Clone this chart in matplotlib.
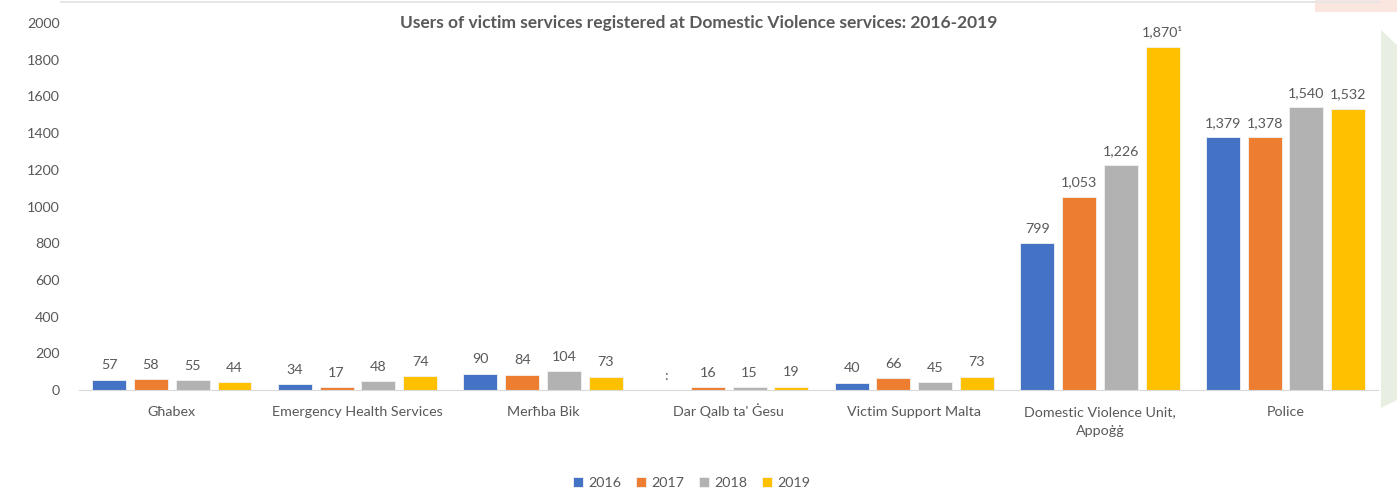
import matplotlib.pyplot as plt
from matplotlib.patches import Polygon, Rectangle
import numpy as np

plt.rcParams['font.family'] = ['Lato', 'DejaVu Sans']

categories = ['Għabex', 'Emergency Health Services', 'Merħba Bik', "Dar Qalb ta' Ġesu",
              'Victim Support Malta', 'Domestic Violence Unit,\nAppoġġ', 'Police']
years = ['2016', '2017', '2018', '2019']
v2016 = [57, 34, 90, 0, 40, 799, 1379]
v2017 = [58, 17, 84, 16, 66, 1053, 1378]
v2018 = [55, 48, 104, 15, 45, 1226, 1540]
v2019 = [44, 74, 73, 19, 73, 1870, 1532]
labels2016 = ['57', '34', '90', ':', '40', '799', '1,379']
labels2019 = ['44', '74', '73', '19', '73', '1,870¹', '1,532']

colors = ['#4472C4', '#ED7D31', '#B2B2B2', '#FFC000']
grey = '#595959'

W, H = 1397, 490
fig = plt.figure(figsize=(W / 100, H / 100), dpi=100)

# faint decorative shapes at the right edge of the source slide
fig.patches.append(Polygon([(1381 / W, 1 - 30 / H), (1397 / W, 1 - 45 / H),
                            (1397 / W, 1 - 400 / H), (1381 / W, 1 - 408 / H)],
                           closed=True, transform=fig.transFigure,
                           facecolor='#e8efe2', edgecolor='none', zorder=0))
fig.patches.append(Rectangle((1315 / W, 1 - 12 / H), 82 / W, 12 / H,
                             transform=fig.transFigure, facecolor='#fbe6df',
                             edgecolor='none', zorder=0))
fig.patches.append(Rectangle((60 / W, 1 - 3 / H), 1320 / W, 2 / H,
                             transform=fig.transFigure, facecolor='#e6e6e6',
                             edgecolor='none', zorder=0))

ax = fig.add_axes([0.0566, 0.204, 0.93, 0.749])
ax.patch.set_alpha(0)

x = np.arange(len(categories))
step = 0.225
width = 0.183
series = [v2016, v2017, v2018, v2019]
for i, (vals, yr, c) in enumerate(zip(series, years, colors)):
    pos = x + (i - 1.5) * step
    ax.bar(pos, vals, width, color=c, label=yr, edgecolor='#f2f2f2', linewidth=0.6)
    if i == 0:
        labs = labels2016
    elif i == 3:
        labs = labels2019
    else:
        labs = [f'{v:,}' for v in vals]
    for p, v, lab in zip(pos, vals, labs):
        ax.text(p, v + 45, lab, ha='center', va='bottom', fontsize=10.3, color=grey)

ax.set_xlim(-0.5, len(categories) - 0.5)
ax.set_ylim(0, 2000)
ax.set_yticks(range(0, 2001, 200))
ax.set_xticks(x)
ax.set_xticklabels([])
ax.tick_params(axis='y', length=0, labelsize=10.3, labelcolor=grey, pad=14)
ax.tick_params(axis='x', length=0)
for s in ['top', 'right', 'left']:
    ax.spines[s].set_visible(False)
ax.spines['bottom'].set_color('#d9d9d9')

# category labels, aligned on their baselines
for xi, cat in zip(x, categories):
    for j, line in enumerate(cat.split('\n')):
        ax.annotate(line, xy=(xi, 0), xycoords=('data', 'axes fraction'),
                    xytext=(0, -26 - 19 * j), textcoords='offset pixels',
                    ha='center', va='baseline', fontsize=10.3, color=grey)

fig.text(0.5, 0.953, 'Users of victim services registered at Domestic Violence services: 2016-2019',
         ha='center', va='center', fontsize=12.5, fontweight='bold', color=grey)

fig.legend(loc='center', bbox_to_anchor=(0.495, 0.015), ncol=4, frameon=False,
           fontsize=10.3, handlelength=0.7, handleheight=0.7, columnspacing=1.0,
           handletextpad=0.4, labelcolor=grey)

fig.savefig('out.png', dpi=100)
